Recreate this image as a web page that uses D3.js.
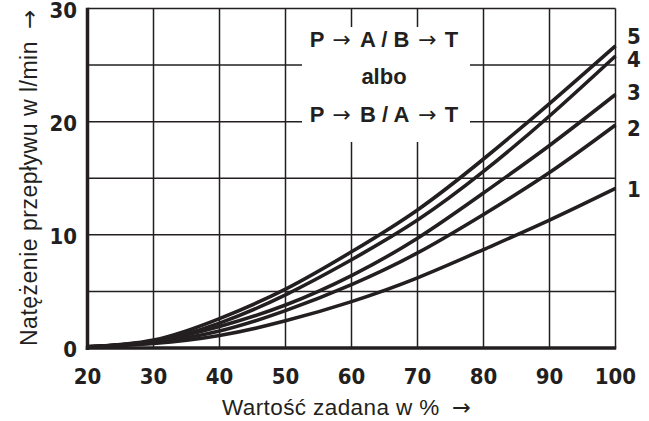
<!DOCTYPE html>
<html><head><meta charset="utf-8">
<script src="https://cdn.jsdelivr.net/npm/d3@7"></script>
<style>
html,body{margin:0;padding:0;background:#fff;}
svg{display:block;}
.tick{font-family:"Liberation Sans Narrow","DejaVu Sans Condensed","Open Sans",sans-serif;font-weight:bold;font-size:22px;fill:#231f20;}
.title{font-family:"Liberation Sans",Arial,sans-serif;font-size:22.5px;letter-spacing:0.4px;fill:#231f20;}
.ytitle{font-size:23px;letter-spacing:0.5px;}
.box{font-family:"Liberation Sans",Arial,sans-serif;font-weight:bold;font-size:22px;fill:#231f20;}
.arr{font-family:"DejaVu Sans",sans-serif;font-weight:normal;}
</style></head>
<body>
<svg id="c" width="649" height="421"></svg>
<script>
const xValues = [20, 30, 40, 50, 60, 70, 80, 90, 100];
const series1 = [0.1, 0.4, 1.1, 2.4, 4.1, 6.2, 8.7, 11.3, 14.1];
const series2 = [0.1, 0.5, 1.5, 3.3, 5.6, 8.4, 11.8, 15.5, 19.7];
const series3 = [0.1, 0.6, 1.9, 3.8, 6.4, 9.7, 13.7, 17.9, 22.4];
const series4 = [0.1, 0.6, 2.2, 4.7, 7.8, 11.3, 15.6, 20.5, 25.8];
const series5 = [0.1, 0.7, 2.6, 5.2, 8.5, 12.2, 16.7, 21.6, 26.7];
const seriesNames = ["1", "2", "3", "4", "5"];
const xTicks = [20, 30, 40, 50, 60, 70, 80, 90, 100];
const yTicks = [0, 10, 20, 30];
const yGrid = [5, 10, 15, 20, 25, 30];
const xTitle = "Wartość zadana w %";
const yTitle = "Natężenie przepływu w l/min";
const arrow = "→";

const svg = d3.select("#c");
const x = d3.scaleLinear().domain([20, 100]).range([87.5, 615.5]);
const y = d3.scaleLinear().domain([0, 30]).range([348, 8.5]);
const ink = "#231f20";

// grid
const g = svg.append("g");
g.selectAll("line.v").data(xTicks.slice(1)).join("line")
  .attr("x1", d => x(d)).attr("x2", d => x(d))
  .attr("y1", y(30)).attr("y2", y(0))
  .attr("stroke", ink).attr("stroke-width", 1.5);
g.selectAll("line.h").data(yGrid).join("line")
  .attr("x1", x(20)).attr("x2", x(100))
  .attr("y1", d => y(d)).attr("y2", d => y(d))
  .attr("stroke", ink).attr("stroke-width", 1.5);

// white box behind label
svg.append("rect").attr("x", 302).attr("y", 27).attr("width", 168).attr("height", 115).attr("fill", "#fff");

// axes (thick left & bottom)
svg.append("line").attr("x1", x(20)).attr("x2", x(20)).attr("y1", y(30) - 0.75).attr("y2", y(0) + 2)
  .attr("stroke", ink).attr("stroke-width", 3.5);
svg.append("line").attr("x1", x(20) - 1.75).attr("x2", x(100) + 0.75).attr("y1", y(0)).attr("y2", y(0))
  .attr("stroke", ink).attr("stroke-width", 3.5);

// curves
const allSeries = [series1, series2, series3, series4, series5];
const line = d3.line().x((d, i) => x(xValues[i])).y(d => y(d)).curve(d3.curveNatural);
svg.append("g").selectAll("path").data(allSeries).join("path")
  .attr("d", d => line(d)).attr("fill", "none").attr("stroke", ink)
  .attr("stroke-width", 3.6).attr("stroke-linejoin", "round");

// curve labels
const labelY = [197, 136, 100, 67, 44];
svg.append("g").selectAll("text").data(seriesNames).join("text")
  .attr("class", "tick").attr("x", 627).attr("y", (d, i) => labelY[i]).text(d => d);

// x tick labels
svg.append("g").selectAll("text").data(xTicks).join("text")
  .attr("class", "tick").attr("text-anchor", "middle")
  .attr("x", d => x(d)).attr("y", 384).text(d => d);
// y tick labels
svg.append("g").selectAll("text").data(yTicks).join("text")
  .attr("class", "tick").attr("text-anchor", "end")
  .attr("x", 77).attr("y", d => y(d) + 9).text(d => d);

// titles
const xt = svg.append("text").attr("class", "title").attr("x", 222).attr("y", 415);
xt.append("tspan").text(xTitle);
xt.append("tspan").attr("class", "arr").attr("dx", 12).text(arrow);
const yt = svg.append("text").attr("class", "title ytitle").attr("transform", "translate(37,346) rotate(-90)");
yt.append("tspan").text(yTitle);
yt.append("tspan").attr("class", "arr").attr("dx", 12).text(arrow);

// box text
const boxLines = [["P", "A / B", "T"], "albo", ["P", "B / A", "T"]];
const boxY = [47, 84, 122];
boxLines.forEach((l, i) => {
  if (typeof l === "string") {
    svg.append("text").attr("class", "box").attr("text-anchor", "middle").attr("x", 384).attr("y", boxY[i]).text(l);
    return;
  }
  const t = svg.append("text").attr("class", "box").attr("text-anchor", "middle").attr("x", 384).attr("y", boxY[i]);
  t.append("tspan").text(l[0]);
  t.append("tspan").attr("class", "arr").attr("dx", 8).text(arrow);
  t.append("tspan").attr("dx", 9).text(l[1]);
  t.append("tspan").attr("class", "arr").attr("dx", 9).text(arrow);
  t.append("tspan").attr("dx", 8).text(l[2]);
});
</script>
</body></html>
